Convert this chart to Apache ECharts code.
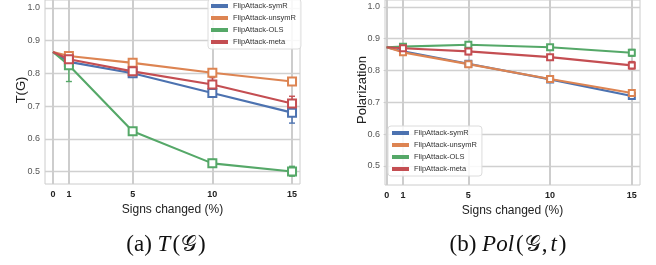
<!DOCTYPE html>
<html>
<head>
<meta charset="utf-8">
<script src="https://cdn.jsdelivr.net/npm/echarts@6/dist/echarts.min.js"></script>
<style>html,body{margin:0;padding:0;background:#fff}#c{width:656px;height:265px}</style>
</head>
<body>
<div id="c"></div>
<script>
// ---- data ----
const xVals = [0, 1, 5, 10, 15];
const xTickVals = [0, 1, 5, 10, 15];
const yTickVals = [0.5, 0.6, 0.7, 0.8, 0.9, 1.0];
const seriesNames = ['FlipAttack-symR', 'FlipAttack-unsymR', 'FlipAttack-OLS', 'FlipAttack-meta'];

// (a) T(G)
const tSymR   = [0.865, 0.835, 0.800, 0.740, 0.680];
const tUnsymR = [0.865, 0.853, 0.832, 0.802, 0.775];
const tOLS    = [0.865, 0.825, 0.623, 0.525, 0.500];
const tMeta   = [0.865, 0.843, 0.806, 0.766, 0.708];
const tSymRLo   = [null, 0.830, 0.795, 0.735, 0.648];
const tSymRHi   = [null, 0.840, 0.805, 0.745, 0.712];
const tUnsymRLo = [null, 0.848, 0.822, 0.798, 0.770];
const tUnsymRHi = [null, 0.858, 0.842, 0.806, 0.780];
const tOLSLo    = [null, 0.775, 0.613, 0.515, 0.486];
const tOLSHi    = [null, 0.850, 0.633, 0.537, 0.516];
const tMetaLo   = [null, 0.838, 0.798, 0.750, 0.693];
const tMetaHi   = [null, 0.848, 0.814, 0.787, 0.730];

// (b) Pol(G,t)
const pSymR   = [0.873, 0.860, 0.821, 0.772, 0.720];
const pUnsymR = [0.873, 0.857, 0.820, 0.773, 0.729];
const pOLS    = [0.873, 0.875, 0.881, 0.873, 0.856];
const pMeta   = [0.873, 0.870, 0.860, 0.842, 0.816];
const pSymRLo   = [null, 0.857, 0.818, 0.768, 0.713];
const pSymRHi   = [null, 0.863, 0.824, 0.776, 0.728];
const pUnsymRLo = [null, 0.854, 0.817, 0.770, 0.725];
const pUnsymRHi = [null, 0.860, 0.823, 0.776, 0.733];
const pOLSLo    = [null, 0.872, 0.877, 0.868, 0.845];
const pOLSHi    = [null, 0.878, 0.886, 0.880, 0.866];
const pMetaLo   = [null, 0.867, 0.850, 0.836, 0.805];
const pMetaHi   = [null, 0.873, 0.870, 0.848, 0.828];

const colors = ['#4c72b0', '#dd8452', '#55a868', '#c44e52'];

// ---- build ----
function lineSeries(name, color, vals, gi, msize) {
  return {
    type: 'line', name: name, xAxisIndex: gi, yAxisIndex: gi,
    data: xVals.map((x, i) => ({ value: [x, vals[i]], symbolSize: i === 0 ? 0 : msize })),
    symbol: 'emptyRect', showAllSymbol: true,
    lineStyle: { width: 2.1, color: color },
    itemStyle: { color: color, borderWidth: 1.8, borderColor: color },
    z: 3, animation: false, silent: true
  };
}
function errSeries(name, color, lo, hi, gi) {
  const d = [];
  xVals.forEach((x, i) => { if (lo[i] != null) d.push([x, lo[i], hi[i]]); });
  return {
    type: 'custom', name: name, xAxisIndex: gi, yAxisIndex: gi, data: d, z: 3,
    animation: false, silent: true,
    renderItem: function (params, api) {
      const x = api.value(0);
      const p1 = api.coord([x, api.value(1)]);
      const p2 = api.coord([x, api.value(2)]);
      const cw = 3;
      const st = { stroke: color, lineWidth: 1.4 };
      return {
        type: 'group', children: [
          { type: 'line', shape: { x1: p1[0], y1: p1[1], x2: p2[0], y2: p2[1] }, style: st },
          { type: 'line', shape: { x1: p1[0] - cw, y1: p1[1], x2: p1[0] + cw, y2: p1[1] }, style: st },
          { type: 'line', shape: { x1: p2[0] - cw, y1: p2[1], x2: p2[0] + cw, y2: p2[1] }, style: st }
        ]
      };
    }
  };
}
function gridSeries(gi) {
  return {
    type: 'line', xAxisIndex: gi, yAxisIndex: gi, data: [], z: 1, silent: true, animation: false,
    markLine: {
      silent: true, symbol: ['none', 'none'], z: 1, animation: false,
      label: { show: false },
      lineStyle: { color: '#d0d0d0', width: 1.3, type: 'solid' },
      emphasis: { disabled: true },
      data: yTickVals.map(v => ({ yAxis: v }))
        .concat(xTickVals.map(v => ({ xAxis: v, lineStyle: { width: 2, color: '#cdcdcd', type: 'solid' } })))
    }
  };
}

const series = [gridSeries(0), gridSeries(1)];
const tVals = [tSymR, tUnsymR, tOLS, tMeta];
const tLo = [tSymRLo, tUnsymRLo, tOLSLo, tMetaLo];
const tHi = [tSymRHi, tUnsymRHi, tOLSHi, tMetaHi];
const pVals = [pSymR, pUnsymR, pOLS, pMeta];
const pLo = [pSymRLo, pUnsymRLo, pOLSLo, pMetaLo];
const pHi = [pSymRHi, pUnsymRHi, pOLSHi, pMetaHi];
for (let k = 0; k < 4; k++) {
  series.push(lineSeries(seriesNames[k], colors[k], tVals[k], 0, 8));
  series.push(errSeries(seriesNames[k], colors[k], tLo[k], tHi[k], 0));
  series.push(lineSeries(seriesNames[k], colors[k], pVals[k], 1, 6));
  series.push(errSeries(seriesNames[k], colors[k], pLo[k], pHi[k], 1));
}

function xAxisDef(gi, min) {
  return {
    type: 'value', gridIndex: gi, min: min, max: 15.5,
    name: 'Signs changed (%)', nameLocation: 'middle', nameGap: 17,
    nameTextStyle: { fontFamily: 'Liberation Sans, Arial, sans-serif', fontSize: 12, color: '#222' },
    axisLine: { show: false }, axisTick: { show: false }, splitLine: { show: false },
    axisLabel: {
      customValues: xTickVals, fontSize: 9, fontWeight: 'bold', color: '#222', margin: 6,
      fontFamily: 'Liberation Sans, Arial, sans-serif'
    }
  };
}
function yAxisDef(gi, min, max) {
  return {
    type: 'value', gridIndex: gi, min: min, max: max,
    axisLine: { show: false },
    axisTick: { show: true, customValues: yTickVals, length: 3, lineStyle: { color: '#ccc', width: 1 } },
    splitLine: { show: false },
    axisLabel: {
      customValues: yTickVals, fontSize: 9, color: '#555', margin: 5,
      fontFamily: 'Liberation Sans, Arial, sans-serif',
      formatter: v => v.toFixed(1)
    }
  };
}

const legendBase = {
  orient: 'vertical', icon: 'rect', itemWidth: 15, itemHeight: 2, itemGap: 4,
  borderColor: '#dcdcdc', borderWidth: 1, borderRadius: 3,
  backgroundColor: 'rgba(255,255,255,0.85)',
  textStyle: { fontSize: 7.5, color: '#333', fontFamily: 'Liberation Sans, Arial, sans-serif', padding: [0, 0, 0, 1] },
  data: seriesNames, selectedMode: false
};

const capRich = {
  r: { fontFamily: 'Liberation Serif, Times New Roman, serif', fontSize: 23, fill: '#111' },
  i: { fontFamily: 'Liberation Serif, Times New Roman, serif', fontSize: 23, fontStyle: 'italic', fill: '#111', padding: [0, 2, 0, 0] },
  g: { fontFamily: 'DejaVu Serif, DejaVu Sans, serif', fontSize: 22, fill: '#111', padding: [0, 1, 0, 1] },
  c: { fontFamily: 'Liberation Serif, Times New Roman, serif', fontSize: 23, fill: '#111', padding: [0, 3, 0, 0] }
};
const axisNameStyle = { fontFamily: 'Liberation Sans, Arial, sans-serif', fontSize: 13, fill: '#222', align: 'center', verticalAlign: 'middle' };

const chart = echarts.init(document.getElementById('c'), null, { renderer: 'canvas' });
chart.setOption({
  animation: false,
  backgroundColor: '#fff',
  color: colors,
  grid: [
    { left: 45, top: -3, width: 255, height: 187, show: true, borderColor: '#cccccc', borderWidth: 1, backgroundColor: 'transparent' },
    { left: 385, top: -3, width: 255, height: 188, show: true, borderColor: '#cccccc', borderWidth: 1, backgroundColor: 'transparent' }
  ],
  xAxis: [xAxisDef(0, -0.5), xAxisDef(1, -0.1)],
  yAxis: [yAxisDef(0, 0.462, 1.024), yAxisDef(1, 0.440, 1.0216)],
  legend: [
    Object.assign({}, legendBase, { left: 208, top: -1, padding: [3, 5, 3, 3] }),
    Object.assign({}, legendBase, { left: 388, top: 126, padding: [3, 5, 3, 4] })
  ],
  series: series,
  graphic: [
    { type: 'text', x: 21, y: 90, rotation: Math.PI / 2, style: Object.assign({ text: 'T(G)' }, axisNameStyle) },
    { type: 'text', x: 362, y: 90, rotation: Math.PI / 2, style: Object.assign({ text: 'Polarization' }, axisNameStyle) },
    {
      type: 'text', x: 166, y: 245,
      style: {
        text: '{r|(a) }{i|T}{r|(}{g|𝒢}{r|)}',
        align: 'center', verticalAlign: 'middle',
        rich: capRich
      }
    },
    {
      type: 'text', x: 508, y: 245,
      style: {
        text: '{r|(b) }{i|Pol}{r|(}{g|𝒢}{c|,}{i|t}{r|)}',
        align: 'center', verticalAlign: 'middle',
        rich: capRich
      }
    }
  ]
});
</script>
</body>
</html>
